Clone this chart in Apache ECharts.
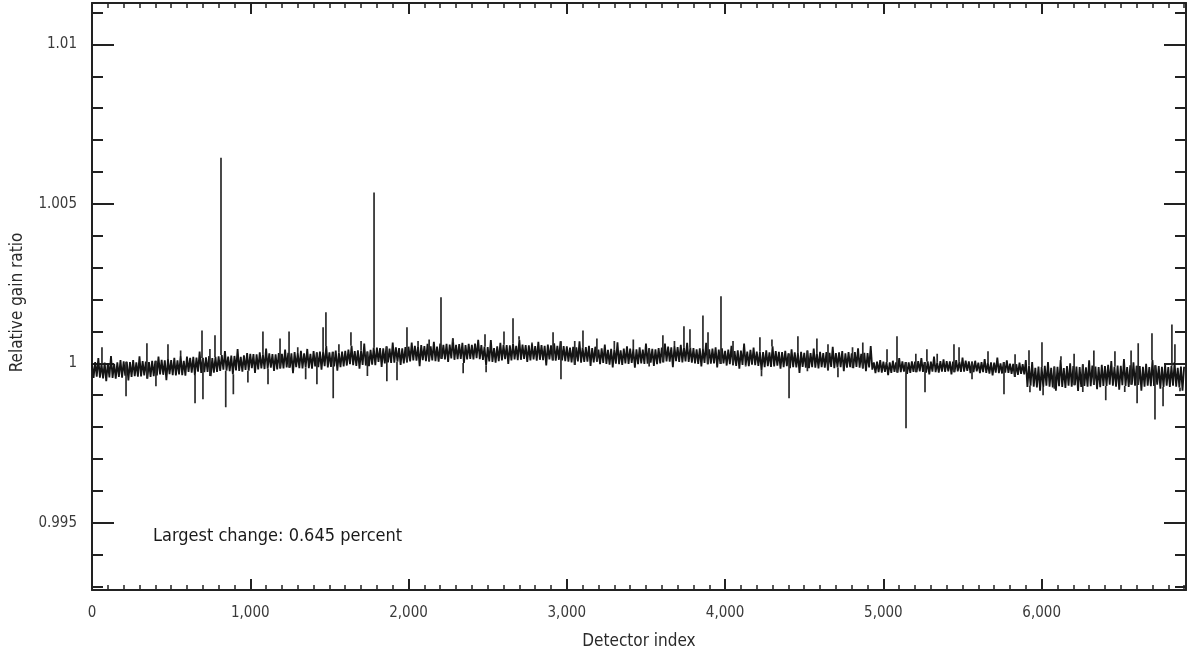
<!DOCTYPE html>
<html><head><meta charset="utf-8">
<script src="https://cdn.jsdelivr.net/npm/echarts@6/dist/echarts.min.js"></script>
<style>html,body{margin:0;padding:0;background:#fff}#c{width:1189px;height:656px}</style>
</head><body><div id="c"></div>
<script>
// ---- data ----
const SAMPLE_STEP = 10; // base samples every 10 detectors, starting at detector 0
const baseRatio = [
1.00000,0.99954,1.00004,0.99958,1.00016,0.99955,0.99999,0.99953,1.00002,0.99944,1.00001,0.99956,1.00023,0.99954,0.99998,0.99952,1.00003,0.99957,1.00010,0.99955,
1.00006,0.99961,1.00005,0.99946,1.00004,0.99957,1.00010,0.99960,1.00003,0.99958,1.00022,0.99959,1.00007,0.99962,1.00005,0.99952,1.00004,0.99957,1.00008,0.99960,
1.00008,0.99962,1.00021,0.99965,1.00011,0.99964,1.00009,0.99947,1.00013,0.99966,1.00010,0.99963,1.00017,0.99962,1.00009,0.99965,1.00023,0.99963,1.00008,0.99961,
1.00021,0.99973,1.00017,0.99971,1.00020,0.99963,1.00018,0.99974,1.00037,0.99970,1.00017,0.99972,1.00019,0.99973,1.00023,0.99960,1.00016,0.99971,1.00020,0.99973,
1.00022,0.99976,1.00026,0.99980,1.00038,0.99977,1.00021,0.99975,1.00024,0.99966,1.00023,0.99978,1.00045,0.99976,1.00020,0.99974,1.00025,0.99979,1.00032,0.99977,
1.00030,0.99985,1.00029,0.99970,1.00028,0.99981,1.00034,0.99984,1.00027,0.99982,1.00046,0.99983,1.00031,0.99986,1.00029,0.99976,1.00028,0.99981,1.00032,0.99984,
1.00030,0.99984,1.00043,0.99987,1.00033,0.99986,1.00031,0.99969,1.00035,0.99988,1.00032,0.99985,1.00039,0.99984,1.00031,0.99987,1.00045,0.99985,1.00030,0.99983,
1.00038,0.99990,1.00034,0.99988,1.00037,0.99980,1.00035,0.99991,1.00054,0.99987,1.00034,0.99989,1.00036,0.99990,1.00040,0.99977,1.00033,0.99988,1.00037,0.99990,
1.00039,0.99993,1.00043,0.99997,1.00055,0.99994,1.00038,0.99992,1.00041,0.99983,1.00040,0.99995,1.00062,0.99993,1.00037,0.99991,1.00042,0.99996,1.00049,0.99994,
1.00049,1.00004,1.00048,0.99989,1.00047,1.00000,1.00053,1.00003,1.00046,1.00001,1.00065,1.00002,1.00050,1.00005,1.00048,0.99995,1.00047,1.00000,1.00051,1.00003,
1.00052,1.00006,1.00065,1.00009,1.00055,1.00008,1.00053,0.99991,1.00057,1.00010,1.00054,1.00007,1.00061,1.00006,1.00053,1.00009,1.00067,1.00007,1.00052,1.00005,
1.00062,1.00014,1.00058,1.00012,1.00061,1.00004,1.00059,1.00015,1.00078,1.00011,1.00058,1.00013,1.00060,1.00014,1.00064,1.00001,1.00057,1.00012,1.00061,1.00014,
1.00058,1.00012,1.00062,1.00016,1.00074,1.00013,1.00057,1.00011,1.00052,0.99994,1.00051,1.00006,1.00073,1.00004,1.00048,1.00002,1.00053,1.00007,1.00064,1.00009,
1.00058,1.00013,1.00057,0.99998,1.00056,1.00009,1.00062,1.00012,1.00055,1.00010,1.00074,1.00011,1.00059,1.00014,1.00057,1.00004,1.00056,1.00009,1.00060,1.00012,
1.00054,1.00008,1.00067,1.00011,1.00057,1.00010,1.00055,0.99993,1.00059,1.00012,1.00056,1.00009,1.00063,1.00008,1.00055,1.00011,1.00069,1.00009,1.00054,1.00007,
1.00053,1.00005,1.00049,1.00003,1.00052,0.99995,1.00050,1.00006,1.00069,1.00002,1.00049,1.00004,1.00051,1.00005,1.00055,0.99992,1.00048,1.00003,1.00052,1.00005,
1.00043,0.99997,1.00047,1.00001,1.00059,0.99998,1.00042,0.99996,1.00045,0.99987,1.00044,0.99999,1.00066,0.99997,1.00041,0.99995,1.00046,1.00000,1.00053,0.99998,
1.00046,1.00001,1.00045,0.99986,1.00044,0.99997,1.00050,1.00000,1.00043,0.99998,1.00062,0.99999,1.00047,1.00002,1.00045,0.99992,1.00044,0.99997,1.00048,1.00000,
1.00049,1.00003,1.00062,1.00006,1.00052,1.00005,1.00050,0.99988,1.00054,1.00007,1.00051,1.00004,1.00058,1.00003,1.00050,1.00006,1.00064,1.00004,1.00049,1.00002,
1.00048,1.00000,1.00044,0.99998,1.00047,0.99990,1.00045,1.00001,1.00064,0.99997,1.00044,0.99999,1.00046,1.00000,1.00050,0.99987,1.00043,0.99998,1.00047,1.00000,
1.00039,0.99993,1.00043,0.99997,1.00055,0.99994,1.00038,0.99992,1.00041,0.99983,1.00040,0.99995,1.00062,0.99993,1.00037,0.99991,1.00042,0.99996,1.00049,0.99994,
1.00037,0.99992,1.00036,0.99977,1.00035,0.99988,1.00041,0.99991,1.00034,0.99989,1.00053,0.99990,1.00038,0.99993,1.00036,0.99983,1.00035,0.99988,1.00039,0.99991,
1.00031,0.99985,1.00044,0.99988,1.00034,0.99987,1.00032,0.99970,1.00036,0.99989,1.00033,0.99986,1.00040,0.99985,1.00032,0.99988,1.00046,0.99986,1.00031,0.99984,
1.00036,0.99988,1.00032,0.99986,1.00035,0.99978,1.00033,0.99989,1.00052,0.99985,1.00032,0.99987,1.00034,0.99988,1.00038,0.99975,1.00031,0.99986,1.00035,0.99988,
1.00031,0.99985,1.00035,0.99989,1.00047,0.99986,1.00030,0.99984,1.00033,0.99975,1.00032,0.99987,1.00054,0.99980,1.00003,0.99969,1.00005,0.99972,1.00010,0.99971,
1.00005,0.99973,1.00004,0.99963,1.00003,0.99970,1.00008,0.99973,1.00003,0.99971,1.00016,0.99972,1.00006,0.99974,1.00004,0.99967,1.00003,0.99970,1.00006,0.99973,
1.00005,0.99972,1.00007,0.99975,1.00016,0.99973,1.00004,0.99971,1.00006,0.99965,1.00005,0.99974,1.00021,0.99972,1.00003,0.99971,1.00007,0.99974,1.00012,0.99973,
1.00007,0.99975,1.00006,0.99965,1.00005,0.99972,1.00010,0.99975,1.00005,0.99973,1.00018,0.99974,1.00008,0.99976,1.00006,0.99969,1.00005,0.99972,1.00008,0.99975,
1.00002,0.99969,1.00004,0.99972,1.00013,0.99970,1.00001,0.99968,1.00003,0.99962,1.00002,0.99971,1.00018,0.99969,1.00000,0.99968,1.00004,0.99971,1.00009,0.99970,
0.99999,0.99967,0.99998,0.99957,0.99997,0.99964,1.00002,0.99967,0.99997,0.99965,1.00010,0.99926,0.99992,0.99930,1.00004,0.99927,0.99986,0.99924,0.99990,0.99914,
0.99988,0.99926,0.99992,0.99930,1.00004,0.99927,0.99986,0.99924,0.99990,0.99914,0.99989,0.99928,1.00010,0.99926,0.99985,0.99923,0.99991,0.99930,1.00000,0.99927,
0.99991,0.99931,0.99990,0.99913,0.99988,0.99926,0.99997,0.99929,0.99987,0.99927,1.00009,0.99928,0.99993,0.99932,0.99990,0.99919,0.99988,0.99925,0.99995,0.99929,
0.99991,0.99929,0.99995,0.99933,1.00007,0.99930,0.99989,0.99927,0.99993,0.99917,0.99992,0.99931,1.00013,0.99929,0.99988,0.99926,0.99994,0.99933,1.00003,0.99930,
0.99992,0.99932,0.99991,0.99914,0.99989,0.99927,0.99998,0.99930,0.99988,0.99928,1.00010,0.99929,0.99994,0.99933,0.99991,0.99920,0.99989,0.99926,0.99996,0.99930,
0.99988,0.99926,0.99992,0.99930,1.00004,0.99927,0.99986,0.99924,0.99990,0.99914,0.99989
];
const spikeIndex = [
63,215,347,404,480,560,651,695,701,745,777,815,845,893,985,1080,1112,1188,1245,1300,
1350,1421,1460,1478,1524,1560,1636,1700,1740,1782,1863,1927,1990,2060,2130,2205,2280,2345,2483,2490,
2603,2660,2698,2780,2913,2963,3050,3102,3190,3300,3420,3520,3607,3680,3740,3778,3860,3892,3974,4050,
4130,4220,4230,4296,4404,4460,4520,4580,4650,4713,4805,4870,5023,5086,5143,5205,5263,5275,5340,5446,
5478,5560,5661,5762,5832,5920,5926,6002,6009,6080,6122,6205,6260,6330,6405,6463,6525,6565,6603,6610,
6697,6716,6767,6823,6842,6874
];
const spikeRatio = [
1.00050,0.99897,1.00063,0.99928,1.00060,1.00040,0.99875,1.00103,0.99887,1.00045,1.00088,1.00645,0.99862,0.99903,0.99940,1.00100,0.99934,1.00078,1.00100,1.00050,
0.99950,0.99934,1.00113,1.00160,0.99890,1.00060,1.00097,1.00070,0.99960,1.00536,0.99944,0.99947,1.00113,1.00070,1.00075,1.00207,1.00065,0.99969,1.00091,0.99972,
1.00100,1.00141,1.00085,1.00065,1.00097,0.99950,1.00070,1.00103,1.00078,1.00070,1.00075,0.99990,1.00088,1.00070,1.00116,1.00107,1.00150,1.00097,1.00210,1.00070,
0.99990,1.00082,0.99959,1.00075,0.99890,1.00085,0.99975,1.00078,1.00060,0.99956,1.00050,1.00065,1.00044,1.00085,0.99796,1.00030,0.99909,1.00044,1.00030,1.00060,
1.00050,0.99950,1.00038,0.99903,1.00028,1.00041,0.99909,1.00066,0.99900,0.99920,1.00022,1.00030,0.99910,1.00040,0.99884,1.00038,0.99910,1.00040,0.99875,1.00063,
1.00094,0.99824,0.99865,1.00122,1.00060,0.99912
];
const xTickStep = 1000;
const yMajorLabels = ['0.995', '1', '1.005', '1.01'];
const annotation = 'Largest change: 0.645 percent';

// ---- layout ----
const Hh = 656;
const X_MAX = 6912, Y_TOP = 1.0113, Y_BOTTOM = 0.99289;
const L = 92, R = 3, T = 3, B = 66;
const plotH = Hh - T - B;
const k = plotH / (Y_TOP - Y_BOTTOM);
const topFor = v => T + (Y_TOP - v) * k;
const bottomFor = v => Hh - topFor(v);

const FONT = "'Liberation Sans Narrow','DejaVu Sans Condensed','Roboto Condensed',sans-serif";
const AX = '#222';

// dense base trace
const basePts = baseRatio.map((v, i) => [i * SAMPLE_STEP, v]);
// each spike is a vertical stroke rising from the nearest base sample
const spikePts = [];
spikeIndex.forEach((x, i) => {
  const anchor = baseRatio[Math.min(baseRatio.length - 1, Math.round(x / SAMPLE_STEP))];
  spikePts.push([x, anchor], [x, spikeRatio[i]], [x, null]);
});

const chart = echarts.init(document.getElementById('c'), null, {renderer: 'canvas'});
const hiddenX = gi => ({type: 'value', gridIndex: gi, min: 0, max: X_MAX, show: false});
const frameLine = {show: true, onZero: false, lineStyle: {color: AX, width: 2}};
const xTicks = {
  axisTick: {show: true, inside: true, length: 11, lineStyle: {color: AX, width: 2}},
  minorTick: {show: true, splitNumber: 10, length: 5, lineStyle: {color: AX, width: 1.5}},
  splitLine: {show: false}, minorSplitLine: {show: false}
};

chart.setOption({
  animation: false,
  backgroundColor: '#fff',
  grid: [
    {left: L, right: R, top: T, bottom: B},
    {left: L, right: R, top: topFor(1.011), bottom: bottomFor(0.993)},
    {left: L, right: R, top: topFor(1.01), bottom: bottomFor(0.995)}
  ],
  xAxis: [
    Object.assign({
      type: 'value', gridIndex: 0, position: 'bottom', min: 0, max: X_MAX, interval: xTickStep,
      axisLine: frameLine,
      axisLabel: {show: true, margin: 16, color: '#3a3a3a', fontFamily: FONT, fontSize: 15,
        showMaxLabel: false, formatter: v => Number(v).toLocaleString('en-US')},
      name: 'Detector index', nameLocation: 'middle', nameGap: 43,
      nameTextStyle: {color: '#2a2a2a', fontFamily: FONT, fontSize: 17}
    }, xTicks),
    Object.assign({
      type: 'value', gridIndex: 0, position: 'top', min: 0, max: X_MAX, interval: xTickStep,
      axisLine: frameLine, axisLabel: {show: false}
    }, xTicks),
    hiddenX(1), hiddenX(2)
  ],
  yAxis: [
    {type: 'value', gridIndex: 0, position: 'left', min: Y_BOTTOM, max: Y_TOP,
      axisLine: frameLine, axisTick: {show: false}, axisLabel: {show: false}, splitLine: {show: false},
      name: 'Relative gain ratio', nameLocation: 'middle', nameGap: 66,
      nameTextStyle: {color: '#2a2a2a', fontFamily: FONT, fontSize: 17, padding: [0, 12, 0, 0]}},
    {type: 'value', gridIndex: 0, position: 'right', min: Y_BOTTOM, max: Y_TOP,
      axisLine: frameLine, axisTick: {show: false}, axisLabel: {show: false}, splitLine: {show: false}},
    {type: 'value', gridIndex: 1, position: 'left', min: 0.993, max: 1.011, interval: 0.001,
      axisLine: {show: false, onZero: false}, axisLabel: {show: false}, splitLine: {show: false},
      axisTick: {show: true, inside: true, length: 11, lineStyle: {color: AX, width: 2}}},
    {type: 'value', gridIndex: 1, position: 'right', min: 0.993, max: 1.011, interval: 0.001,
      axisLine: {show: false, onZero: false}, axisLabel: {show: false}, splitLine: {show: false},
      axisTick: {show: true, inside: true, length: 11, lineStyle: {color: AX, width: 2}}},
    {type: 'value', gridIndex: 2, position: 'left', min: 0.995, max: 1.01, interval: 0.005,
      axisLine: {show: false, onZero: false}, splitLine: {show: false},
      axisTick: {show: true, inside: true, length: 22, lineStyle: {color: AX, width: 2}},
      axisLabel: {show: true, margin: 15, color: '#3a3a3a', fontFamily: FONT, fontSize: 15,
        formatter: v => { const s = String(+(+v).toFixed(3)); return yMajorLabels.includes(s) ? s : ''; }}},
    {type: 'value', gridIndex: 2, position: 'right', min: 0.995, max: 1.01, interval: 0.005,
      axisLine: {show: false, onZero: false}, splitLine: {show: false}, axisLabel: {show: false},
      axisTick: {show: true, inside: true, length: 22, lineStyle: {color: AX, width: 2}}}
  ],
  series: [{
    type: 'line', xAxisIndex: 2, yAxisIndex: 2, data: basePts,
    showSymbol: false, symbol: 'none', silent: true,
    lineStyle: {color: '#141414', width: 1.8}
  }, {
    type: 'line', xAxisIndex: 2, yAxisIndex: 2, data: spikePts, connectNulls: false,
    showSymbol: false, symbol: 'none', silent: true,
    lineStyle: {color: '#2a2a2a', width: 1.7}
  }],
  graphic: [{
    type: 'text', left: 153, top: 527,
    style: {text: annotation, fill: '#1a1a1a', font: '18px ' + FONT}
  }]
});
</script></body></html>
